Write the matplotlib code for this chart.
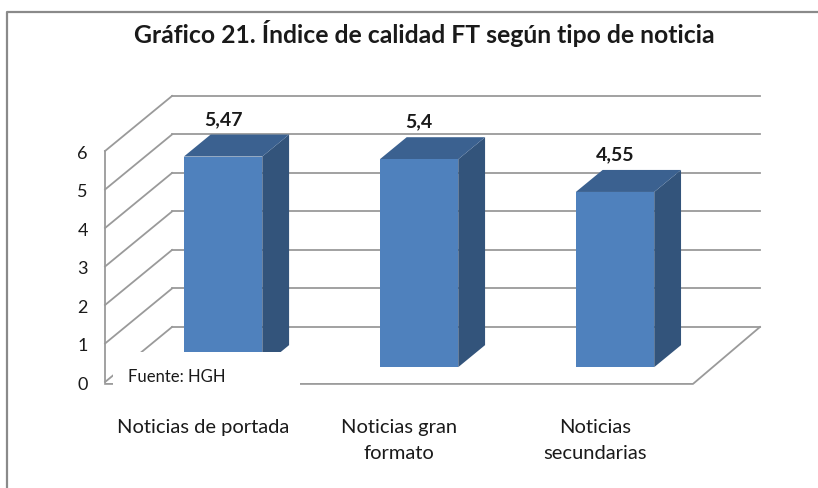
"""
Recreates the Excel-style 3D column chart: "Gráfico 21. Índice de calidad FT
según tipo de noticia". The pseudo 3D look is built from a simple oblique
projection: every point is (category, value, depth) and depth shifts it
right/up by a fixed amount.
"""

import matplotlib.pyplot as plt
from matplotlib.patches import Polygon, Rectangle

# Section: Data
# ---
categories = ["Noticias de portada", "Noticias gran\nformato", "Noticias\nsecundarias"]
values = [5.47, 5.4, 4.55]
value_labels = ["5,47", "5,4", "4,55"]
y_ticks = [0, 1, 2, 3, 4, 5, 6]
title = "Gráfico 21. Índice de calidad FT según tipo de noticia"
source = "Fuente: HGH"

# Section: Style
# ---
plt.rcParams['font.family'] = ['Lato', 'DejaVu Sans']
FRONT = "#4f81bd"
SIDE = "#33547b"
TOP = "#3b6190"
GRID = "#9a9a9a"
TEXT = "#1a1a1a"

# Section: Projection (depth 0 = front of floor, 1 = back wall)
# ---
DX = 0.342       # category units shifted per unit depth
DV = 1.43        # value units shifted per unit depth
BAR_W = 0.4
BAR_D0, BAR_D1 = 0.27, 0.67
X_LEFT, X_RIGHT = -0.51, 2.49


def proj(x, v, d):
    return (x + d * DX, v + d * DV)


fig = plt.figure(figsize=(8.18, 4.89), dpi=100)
ax = fig.add_axes([0, 0, 1, 1])
ax.set_xlim(-1.046, 3.128)
ax.set_ylim(-2.753, 9.948)
ax.axis("off")

ymax = max(y_ticks)

# back wall gridlines
for t in y_ticks:
    p0 = proj(X_LEFT, t, 1)
    p1 = proj(X_RIGHT, t, 1)
    ax.plot([p0[0], p1[0]], [p0[1], p1[1]], color=GRID, lw=1.3, zorder=1)

# side wall diagonals + tick labels
for t in y_ticks:
    p0 = proj(X_LEFT, t, 0)
    p1 = proj(X_LEFT, t, 1)
    ax.plot([p0[0], p1[0]], [p0[1], p1[1]], color=GRID, lw=1.3, zorder=1)
    ax.text(p0[0] - 0.115, t - 0.05, str(t), ha="center", va="center",
            fontsize=13, color=TEXT)

# side wall front edge
p0 = proj(X_LEFT, 0, 0)
p1 = proj(X_LEFT, ymax, 0)
ax.plot([p0[0], p1[0]], [p0[1], p1[1]], color=GRID, lw=1.3, zorder=1)

# floor front and right edges
f0 = proj(X_LEFT, 0, 0)
f1 = proj(X_RIGHT, 0, 0)
f2 = proj(X_RIGHT, 0, 1)
ax.plot([f0[0], f1[0], f2[0]], [f0[1] - 0.05, f1[1] - 0.05, f2[1]],
        color=GRID, lw=1.3, zorder=1)

# bars
for i, v in enumerate(values):
    xl, xr = i - BAR_W / 2, i + BAR_W / 2
    front = [proj(xl, 0, BAR_D0), proj(xr, 0, BAR_D0),
             proj(xr, v, BAR_D0), proj(xl, v, BAR_D0)]
    side = [proj(xr, 0, BAR_D0), proj(xr, 0, BAR_D1),
            proj(xr, v, BAR_D1), proj(xr, v, BAR_D0)]
    top = [proj(xl, v, BAR_D0), proj(xr, v, BAR_D0),
           proj(xr, v, BAR_D1), proj(xl, v, BAR_D1)]
    ax.add_patch(Polygon(side, closed=True, facecolor=SIDE, edgecolor="none", zorder=3))
    ax.add_patch(Polygon(top, closed=True, facecolor=TOP, edgecolor="none", zorder=3))
    ax.add_patch(Polygon(front, closed=True, facecolor=FRONT, edgecolor="none", zorder=4))
    lx = proj(i, v, BAR_D0)[0]
    ly = proj(i, v, BAR_D1)[1]
    ax.text(lx, ly + 0.42, value_labels[i], ha="center", va="center",
            fontsize=14, fontweight="bold", color=TEXT, zorder=5)
    ax.text(i - 0.01, -0.93, categories[i], ha="center", va="top",
            fontsize=14.5, color=TEXT, linespacing=1.65)

# source note box (white, hides the lower-left corner as in the original)
ax.add_patch(Rectangle((-0.469, -0.31), 0.954, 1.09, facecolor="white",
                       edgecolor="none", zorder=6))
ax.text(-0.393, 0.15, source, ha="left", va="center", fontsize=12,
        color=TEXT, zorder=7)

# title
fig.text(0.519, 0.932, title, ha="center", va="center", fontsize=17.8,
         fontweight="bold", color=TEXT)

# chart area frame (left and top edges only are inside the picture)
fig.add_artist(plt.Line2D([0.009, 0.009, 1.0], [0.0, 0.973, 0.973],
                          transform=fig.transFigure, color="#8a8a8a", lw=1.6))

plt.savefig("out.png", dpi=100)
